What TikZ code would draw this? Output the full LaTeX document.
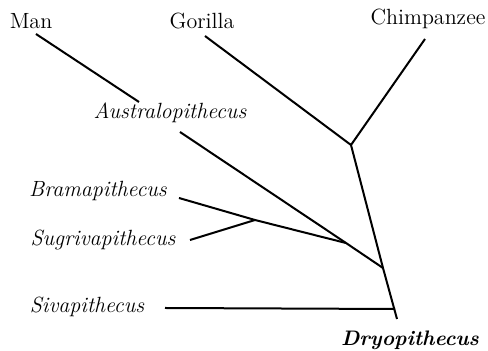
\documentclass[tikz,border=0pt]{standalone}
\usepackage{tikz}
\usepackage{amsmath}

\tikzset{
  living/.style={font=\fontsize{11}{13}\selectfont, inner sep=0pt},
  fossil/.style={font=\fontsize{11}{13}\selectfont\itshape, inner sep=0pt},
  rootname/.style={font=\fontsize{10.5}{13}\selectfont\bfseries\itshape, inner sep=0pt},
  branch/.style={draw=black, line width=1pt},
}

\begin{document}
\begin{tikzpicture}[x=0.5pt,y=-0.5pt]
\useasboundingbox (0,0) rectangle (488,351);
% names of the forms:
\node[living] (man) at (31,21) {Man};
\node[living] (gorilla) at (202,21) {Gorilla};
\node[living] (chimp) at (428,19) {Chimpanzee};
\node[fossil] (austr) at (170,113) {Australopithecus};
\node[fossil] (brama) at (98,191) {Bramapithecus};
\node[fossil] (sugri) at (103,240) {Sugrivapithecus};
\node[fossil] (siva) at (87,307) {Sivapithecus};
\node[rootname] (dryo) at (410,340) {Dryopithecus};
% branch points:
\coordinate (apes) at (351,145);
\coordinate (hominid) at (383,268);
\coordinate (ramajoin) at (346,243);
\coordinate (sugjoin) at (255,220);
\coordinate (base) at (397,319);
% free ends of the branches:
\coordinate (man-a) at (36,34);
\coordinate (man-b) at (139,102);
\coordinate (austr-a) at (180,132);
\coordinate (gorilla-a) at (205,36);
\coordinate (chimp-a) at (425,39);
\coordinate (brama-a) at (179,198);
\coordinate (sugri-a) at (190,240);
\coordinate (siva-a) at (165,308);
\coordinate (siva-b) at (395,309);
% branches:
\path[branch] (man-a) -- (man-b);
\path[branch] (austr-a) -- (ramajoin) -- (hominid);
\path[branch] (gorilla-a) -- (apes) -- (chimp-a);
\path[branch] (apes) -- (hominid) -- (base);
\path[branch] (brama-a) -- (sugjoin) -- (ramajoin);
\path[branch] (sugri-a) -- (sugjoin);
\path[branch] (siva-a) -- (siva-b);
\end{tikzpicture}
\end{document}
